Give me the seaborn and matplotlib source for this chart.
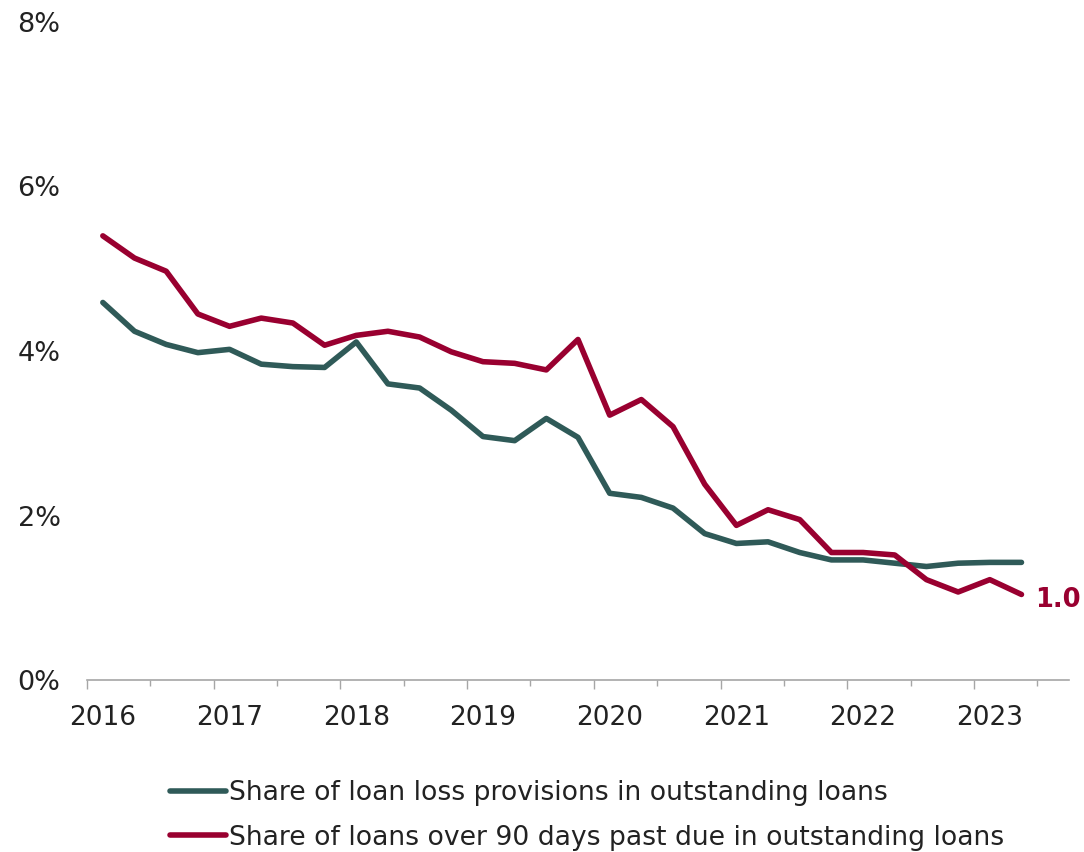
import numpy as np
import pandas as pd
import matplotlib
matplotlib.use("Agg")
import matplotlib.pyplot as plt
from matplotlib.ticker import PercentFormatter
from matplotlib.lines import Line2D
import seaborn as sns

# -----------------------------
# Data (quarterly, 2016 Q1 - 2023 Q2), values in %
# -----------------------------
quarters = [f"{y} Q{q}" for y in range(2016, 2024) for q in range(1, 5)][:30]
year_labels = ["2016", "2017", "2018", "2019", "2020", "2021", "2022", "2023"]

provisions = [4.59, 4.24, 4.08, 3.98, 4.02, 3.84, 3.81, 3.80,
              4.11, 3.60, 3.55, 3.28, 2.96, 2.91, 3.18, 2.95,
              2.27, 2.22, 2.09, 1.78, 1.66, 1.68, 1.55, 1.46,
              1.46, 1.42, 1.38, 1.42, 1.43, 1.43]
past_due = [5.40, 5.13, 4.97, 4.45, 4.30, 4.40, 4.34, 4.07,
            4.19, 4.24, 4.17, 3.99, 3.87, 3.85, 3.77, 4.14,
            3.22, 3.41, 3.08, 2.38, 1.88, 2.07, 1.95, 1.55,
            1.55, 1.52, 1.22, 1.07, 1.22, 1.04]

name_prov = "Share of loan loss provisions in outstanding loans"
name_due = "Share of loans over 90 days past due in outstanding loans"

df = pd.DataFrame({
    "idx": list(range(len(quarters))) * 2,
    "quarter": quarters * 2,
    "value": provisions + past_due,
    "series": [name_prov] * len(quarters) + [name_due] * len(quarters),
})

green = "#2F5A58"
red = "#990030"
grey = "#A6A6A6"
lw = 4.0

# -----------------------------
# Plot
# -----------------------------
sns.set_style("white")
plt.rcParams["font.family"] = ["DejaVu Sans"]

fig = plt.figure(figsize=(10.84, 8.52), dpi=100)
ax = fig.add_axes([87 / 1084, 1 - 680 / 852, (1069 - 87) / 1084, (680 - 22) / 852])

sns.lineplot(data=df, x="idx", y="value", hue="series",
             palette={name_prov: green, name_due: red},
             linewidth=lw, ax=ax, legend=False,
             solid_capstyle="round", solid_joinstyle="round")

n = len(quarters)
ax.set_xlim(-0.5, n + 0.5)
ax.set_ylim(0, 8)
ax.set_xlabel("")
ax.set_ylabel("")

# y axis
ax.set_yticks([0, 2, 4, 6, 8])
ax.yaxis.set_major_formatter(PercentFormatter(decimals=0))
ax.tick_params(axis="y", length=0, pad=19, labelsize=19.5, labelcolor="#222222")

# x axis: tick marks at year and half-year boundaries
year_bounds = np.arange(-0.5, n, 4)
half_bounds = np.arange(1.5, n, 4)
ax.set_xticks(year_bounds)
ax.set_xticklabels([])
ax.set_xticks(half_bounds, minor=True)
ax.tick_params(axis="x", which="major", length=6.3, width=1, color=grey, bottom=True)
ax.tick_params(axis="x", which="minor", length=4.3, width=1, color=grey, bottom=True)

sec = ax.secondary_xaxis("bottom")
sec.set_xticks(np.arange(0, n, 4), year_labels)
sec.tick_params(length=0, pad=18, labelsize=19, labelcolor="#222222")
sec.spines["bottom"].set_visible(False)

for s in ["top", "right", "left"]:
    ax.spines[s].set_visible(False)
ax.spines["bottom"].set_color(grey)
ax.spines["bottom"].set_linewidth(1.2)

# end label
ax.annotate(f"{past_due[-1]:.1f}", xy=(n - 1, past_due[-1]), xytext=(10, -4),
            textcoords="offset points", ha="left", va="center",
            color=red, fontsize=18.5, fontweight="bold")

# legend
handles = [Line2D([], [], color=green, lw=lw, solid_capstyle="round"),
           Line2D([], [], color=red, lw=lw, solid_capstyle="round")]
fig.legend(handles, [name_prov, name_due], loc="upper left",
           bbox_to_anchor=(170 / 1084, 1 - 780 / 852), frameon=False,
           fontsize=19.2, handlelength=2.1, handletextpad=0.1,
           borderpad=0, borderaxespad=0, labelspacing=0.7,
           labelcolor="#222222")

fig.savefig("out.png", dpi=100)
